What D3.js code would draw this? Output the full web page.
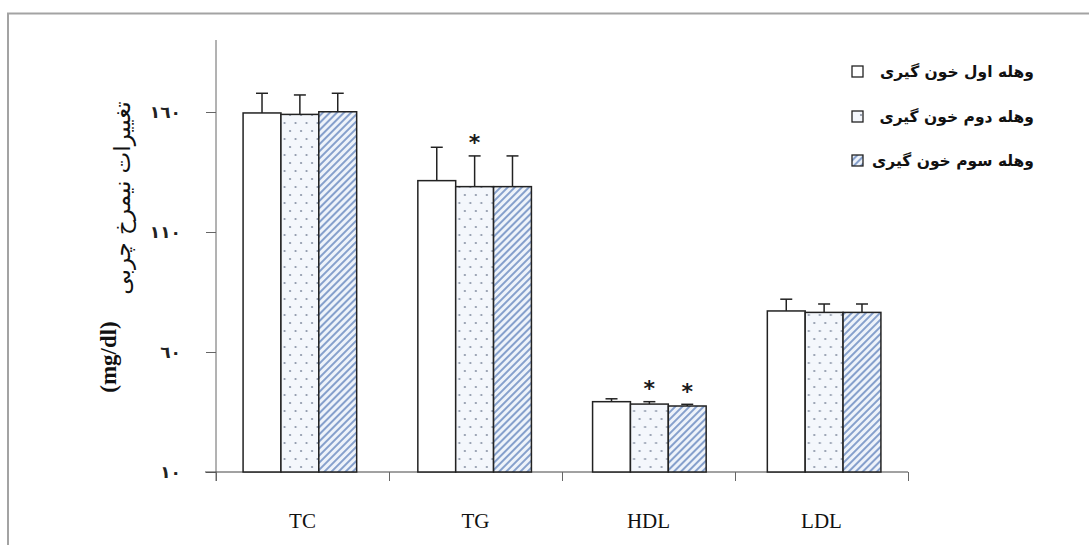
<!DOCTYPE html>
<html><head><meta charset="utf-8">
<script src="https://cdn.jsdelivr.net/npm/d3@7"></script>
<style>body{margin:0;background:#fff}svg{display:block}</style>
</head><body>
<svg id="c" width="1089" height="545"></svg>
<script>
const categories = ["TC", "TG", "HDL", "LDL"];
const seriesNames = ["وهله اول خون گیری", "وهله دوم خون گیری", "وهله سوم خون گیری"];
const values1 = [159.6, 131.4, 39.3, 77.1];
const values2 = [159.0, 128.9, 38.3, 76.5];
const values3 = [160.1, 128.9, 37.5, 76.5];
const errors1 = [8.2, 13.9, 1.2, 4.9];
const errors2 = [8.1, 12.8, 1.0, 3.5];
const errors3 = [7.7, 12.8, 0.7, 3.5];
const stars = [[false,false,false],[false,true,false],[false,true,true],[false,false,false]];
const yTicks = [10, 60, 110, 160];
const yTickLabels = ["١٠", "٦٠", "١١٠", "١٦٠"];
const yLabelText = "تغییرات نیمرخ چربی";
const yLabelUnit = "(mg/dl)";

const vals = [values1, values2, values3];
const errs = [errors1, errors2, errors3];

const svg = d3.select("#c");
const defs = svg.append("defs");
// dotted pattern
const pd = defs.append("pattern").attr("id","dots").attr("patternUnits","userSpaceOnUse")
  .attr("width",11).attr("height",16);
pd.append("rect").attr("width",11).attr("height",16).attr("fill","#f4f7fc");
pd.append("circle").attr("cx",3).attr("cy",3).attr("r",1.1).attr("fill","#8a93a6");
pd.append("circle").attr("cx",8.5).attr("cy",11).attr("r",1.1).attr("fill","#8a93a6");
// hatch pattern
const ph = defs.append("pattern").attr("id","hatch").attr("patternUnits","userSpaceOnUse")
  .attr("width",5).attr("height",5).attr("patternTransform","rotate(45)");
ph.append("rect").attr("width",5).attr("height",5).attr("fill","#eef3fa");
ph.append("rect").attr("x",0).attr("y",0).attr("width",2).attr("height",5).attr("fill","#86a0cc");
const fills = ["#ffffff", "url(#dots)", "url(#hatch)"];

// outer frame
svg.append("path").attr("d","M8,560 L8,13.5 L1100,13.5").attr("fill","none")
  .attr("stroke","#a3a3a3").attr("stroke-width",2);

const x0 = 216, x1 = 908, yTop = 40, yBot = 472;
const y = d3.scaleLinear().domain([10, 190]).range([yBot, yTop]);
const x = d3.scaleBand().domain(categories).range([x0, x1]).paddingInner(0.35).paddingOuter(0.155);
const xs = d3.scaleBand().domain([0,1,2]).range([0, x.bandwidth()]);

// y axis
const yAxis = d3.axisLeft(y).tickValues(yTicks).tickFormat((d,i)=>yTickLabels[i]).tickSize(10).tickSizeOuter(0);
const gy = svg.append("g").attr("transform",`translate(${x0},0)`).call(yAxis);
gy.select(".domain").attr("d",`M0,${yTop}V${yBot+9}`).attr("stroke","#666");
gy.selectAll(".tick line").attr("stroke","#666");
gy.selectAll(".tick text").attr("x",-35).attr("font-family","'DejaVu Sans', sans-serif")
  .attr("font-weight","bold").attr("font-size",17).attr("fill","#222");

// x axis
const xb = d3.scaleLinear().domain([0,4]).range([x0, x1]);
const xAxis = d3.axisBottom(xb).tickValues([0,1,2,3,4]).tickFormat("").tickSize(9).tickSizeOuter(0);
const gx = svg.append("g").attr("transform",`translate(0,${yBot})`).call(xAxis);
gx.select(".domain").attr("d",`M${x0-11},0H${x1}`).attr("stroke","#444");
gx.selectAll(".tick line").attr("stroke","#666");

// x labels
svg.append("g").selectAll("text").data(categories).join("text")
  .attr("x", d => xb(categories.indexOf(d)+0.5)).attr("y", 528)
  .attr("text-anchor","middle").attr("font-family","'Liberation Serif', serif")
  .attr("font-size",21).attr("fill","#111").text(d=>d);

// bars
const groups = svg.append("g").selectAll("g").data(categories).join("g")
  .attr("transform", d => `translate(${x(d)},0)`);
groups.each(function(c, ci){
  const g = d3.select(this);
  for (let s = 0; s < 3; s++) {
    const v = vals[s][ci], e = errs[s][ci];
    const bx = xs(s), bw = xs.bandwidth();
    const cx = bx + bw/2;
    g.append("line").attr("x1",cx).attr("x2",cx).attr("y1",y(v)).attr("y2",y(v+e))
      .attr("stroke","#222").attr("stroke-width",1.5);
    g.append("line").attr("x1",cx-6).attr("x2",cx+6).attr("y1",y(v+e)).attr("y2",y(v+e))
      .attr("stroke","#222").attr("stroke-width",1.5);
    g.append("rect").attr("x",bx).attr("y",y(v)).attr("width",bw).attr("height",yBot-y(v))
      .attr("fill",fills[s]).attr("stroke","#222").attr("stroke-width",1.5);
    if (stars[ci][s]) {
      g.append("text").attr("x",cx).attr("y",y(v+e)-22).attr("text-anchor","middle")
        .attr("dy","0.75em").attr("font-family","'DejaVu Sans', sans-serif").attr("font-size",22)
        .attr("font-weight","bold").attr("fill","#1a1a1a").text("*");
    }
  }
});

// y label
svg.append("text").attr("transform","translate(116,357) rotate(-90)").attr("text-anchor","middle")
  .attr("font-family","'Liberation Serif', serif").attr("font-weight","bold").attr("font-size",23)
  .attr("fill","#111").text(yLabelUnit);
svg.append("text").attr("transform","translate(130,198) rotate(-90)").attr("text-anchor","middle")
  .attr("direction","rtl").attr("font-family","'DejaVu Sans', sans-serif")
  .attr("font-size",23).attr("fill","#111").text(yLabelText);

// legend
const legendY = [72, 117, 161];
const lg = svg.append("g");
seriesNames.forEach((n, i) => {
  lg.append("rect").attr("x",852).attr("y",legendY[i]-6).attr("width",11).attr("height",11)
    .attr("fill",fills[i]).attr("stroke","#222").attr("stroke-width",1.3);
  lg.append("text").attr("x",1034).attr("y",legendY[i]+5).attr("text-anchor","start").attr("direction","rtl")
    .attr("font-family","'DejaVu Sans', sans-serif").attr("font-weight","bold").attr("font-size",15.5)
    .attr("fill","#111").text(n);
});
</script>
</body></html>
